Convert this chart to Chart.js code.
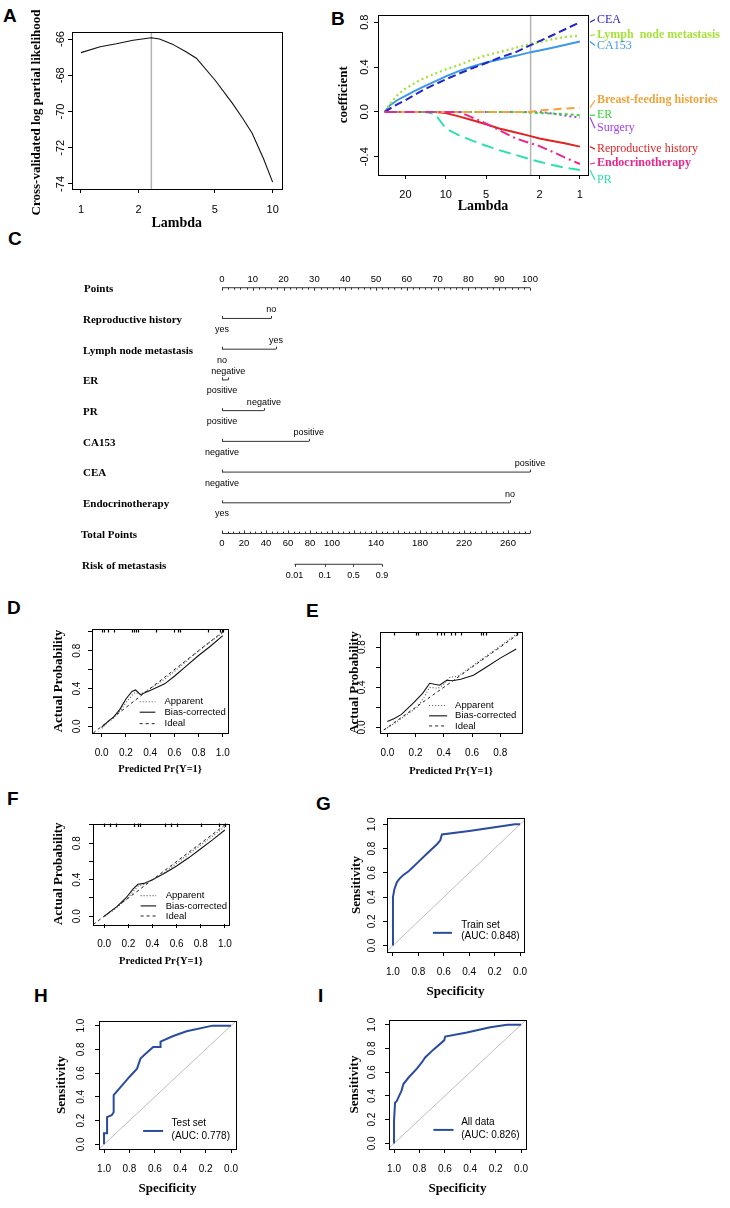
<!DOCTYPE html>
<html>
<head>
<meta charset="utf-8">
<script src="https://cdn.jsdelivr.net/npm/chart.js@4.4.1/dist/chart.umd.min.js"></script>
<style>
html, body { margin: 0; padding: 0; background: #fff; }
#fig { position: relative; width: 730px; height: 1208px; overflow: hidden; background: #fff; }
#fig canvas { position: absolute; }
.tag { position: absolute; font: bold 19px 'Liberation Sans', Arial, sans-serif; line-height: 1; color: #000; }
</style>
</head>
<body>
<div id="fig">
  <div class="tag" style="left:3px;top:6px">A</div>
  <div class="tag" style="left:331px;top:9px">B</div>
  <div class="tag" style="left:8px;top:229px">C</div>
  <div class="tag" style="left:7px;top:598px">D</div>
  <div class="tag" style="left:306px;top:601px">E</div>
  <div class="tag" style="left:7px;top:789px">F</div>
  <div class="tag" style="left:316px;top:794px">G</div>
  <div class="tag" style="left:34px;top:986px">H</div>
  <div class="tag" style="left:318px;top:986px">I</div>
  <canvas id="cA"></canvas>
  <canvas id="cB"></canvas>
  <canvas id="cC"></canvas>
  <canvas id="cD"></canvas>
  <canvas id="cE"></canvas>
  <canvas id="cF"></canvas>
  <canvas id="cG"></canvas>
  <canvas id="cH"></canvas>
  <canvas id="cI"></canvas>
</div>
<script>
(function () {
  'use strict';

  var SANS = "'Liberation Sans', Arial, sans-serif";
  var SERIF = "'Liberation Serif', 'Times New Roman', serif";
  Chart.defaults.font.family = SANS;
  Chart.defaults.color = '#000';

  /* ---------- A: cross-validated partial likelihood ---------- */
  var cvLambda = [1.0, 1.26, 1.53, 1.87, 2.0, 2.33, 2.57, 3.0, 3.53, 4.0, 5.0, 6.16, 7.0, 7.82, 9.0, 10.0];
  var cvLogLik = [-66.75, -66.42, -66.26, -66.07, -66.02, -65.93, -66.0, -66.28, -66.7, -67.06, -68.26, -69.54, -70.4, -71.2, -72.65, -73.9];
  var lambdaMin = 2.33;
  var cvTicksX = [1, 2, 5, 10];
  var cvTicksY = [-74, -72, -70, -68, -66];

  /* ---------- B: coefficient paths ---------- */
  var pathLambda = [28.5, 26, 23, 20, 17, 14.5, 12, 10, 8, 6.5, 5, 4, 3, 2.33, 2, 1.6, 1.3, 1.0];
  var pathCEA    = [0, 0.03, 0.068, 0.104, 0.154, 0.2, 0.246, 0.29, 0.34, 0.385, 0.436, 0.483, 0.533, 0.596, 0.631, 0.684, 0.735, 0.80];
  var pathLymph  = [0, 0.074, 0.148, 0.207, 0.258, 0.302, 0.34, 0.379, 0.418, 0.459, 0.504, 0.533, 0.572, 0.607, 0.622, 0.649, 0.667, 0.681];
  var pathCA153  = [0, 0.06, 0.104, 0.142, 0.187, 0.228, 0.273, 0.317, 0.364, 0.40, 0.44, 0.468, 0.50, 0.533, 0.548, 0.572, 0.596, 0.628];
  var pathBreast = [0, 0, 0, 0, 0, 0, 0, 0, 0, 0, 0, 0, 0, 0, 0.015, 0.02, 0.03, 0.038];
  var pathER     = [0, 0, 0, 0, 0, 0, 0, 0, 0, 0, 0, 0, 0, -0.006, -0.01, -0.015, -0.02, -0.03];
  var pathSurg   = [0, 0, 0, 0, 0, 0, 0, 0, 0, 0, 0, 0, 0, 0, 0, -0.015, -0.033, -0.05];
  var pathRepro  = [0, 0, 0, 0, 0, 0, 0, -0.01, -0.04, -0.07, -0.11, -0.148, -0.184, -0.216, -0.237, -0.26, -0.28, -0.31];
  var pathEndo   = [0, 0, 0, 0, 0, 0, 0, 0, 0, -0.044, -0.104, -0.163, -0.237, -0.28, -0.305, -0.356, -0.406, -0.465];
  var pathPR     = [0, 0, 0, 0, 0, 0, -0.02, -0.148, -0.207, -0.252, -0.302, -0.341, -0.385, -0.424, -0.444, -0.474, -0.498, -0.519];
  var pathNames  = ['CEA', 'Lymph  node metastasis', 'CA153', 'Breast-feeding histories', 'ER', 'Surgery', 'Reproductive history', 'Endocrinotherapy', 'PR'];
  var pathLabelY = [0.824, 0.69, 0.593, 0.104, -0.03, -0.146, -0.332, -0.456, -0.607];
  var pathTicksX = [20, 10, 5, 2, 1];
  var pathTicksY = [-0.4, 0, 0.4, 0.8];

  /* ---------- C: nomogram ---------- */
  var nomoVars   = ['Reproductive history', 'Lymph node metastasis', 'ER', 'PR', 'CA153', 'CEA', 'Endocrinotherapy'];
  var nomoLow    = ['yes', 'no', 'positive', 'positive', 'negative', 'negative', 'yes'];
  var nomoHigh   = ['no', 'yes', 'negative', 'negative', 'positive', 'positive', 'no'];
  var nomoPoints = [16, 17.5, 2, 13.6, 28.2, 100, 93.5];
  var pointTicks = [0, 10, 20, 30, 40, 50, 60, 70, 80, 90, 100];
  var totalTicks = [0, 20, 40, 60, 80, 100, 140, 180, 220, 260];
  var totalMax = 280;
  var riskLabels = ['0.01', '0.1', '0.5', '0.9'];
  var riskAtTotal = [66, 93.5, 119.5, 145.5];

  /* ---------- D, E, F: calibration ---------- */
  var calDx = [0.0, 0.05, 0.1, 0.15, 0.2, 0.25, 0.28, 0.32, 0.4, 0.52, 0.6, 0.7, 0.8, 0.9, 1.0];
  var calDapp = [-0.02, 0.04, 0.09, 0.16, 0.25, 0.33, 0.36, 0.34, 0.40, 0.50, 0.58, 0.69, 0.80, 0.90, 0.99];
  var calDbias = [-0.01, 0.05, 0.10, 0.18, 0.29, 0.37, 0.385, 0.335, 0.38, 0.45, 0.53, 0.64, 0.75, 0.85, 0.96];
  var rugD = [0.0, 0.02, 0.05, 0.1, 0.25, 0.27, 0.28, 0.3, 0.45, 0.6, 0.63, 0.65, 0.88, 0.98, 0.99, 1.0];

  var calEappX = [-0.02, 0.05, 0.1, 0.15, 0.21, 0.26, 0.30, 0.36, 0.40, 0.445, 0.5, 0.6, 0.7, 0.8, 0.93];
  var calEapp  = [-0.02, 0.04, 0.09, 0.14, 0.20, 0.30, 0.40, 0.39, 0.43, 0.50, 0.51, 0.61, 0.71, 0.81, 0.946];
  var calEbiasX = [0.0, 0.05, 0.1, 0.185, 0.25, 0.30, 0.37, 0.42, 0.46, 0.52, 0.61, 0.7, 0.8, 0.913];
  var calEbias  = [0.06, 0.09, 0.13, 0.245, 0.34, 0.44, 0.42, 0.47, 0.465, 0.48, 0.52, 0.6, 0.69, 0.78];
  var rugE = [0.05, 0.2, 0.22, 0.35, 0.38, 0.4, 0.45, 0.48, 0.52, 0.66, 0.68, 0.7, 0.92];

  var calFx = [0.0, 0.05, 0.1, 0.18, 0.24, 0.28, 0.33, 0.4, 0.5, 0.6, 0.7, 0.8, 0.9, 1.0];
  var calFapp = [0.0, 0.04, 0.09, 0.18, 0.27, 0.33, 0.35, 0.40, 0.48, 0.58, 0.68, 0.78, 0.88, 0.98];
  var calFbias = [0.0, 0.05, 0.10, 0.20, 0.30, 0.35, 0.36, 0.40, 0.47, 0.55, 0.64, 0.74, 0.84, 0.945];
  var rugF = [0.0, 0.05, 0.1, 0.25, 0.28, 0.3, 0.5, 0.55, 0.6, 0.8, 0.95, 1.0];

  var calTicks = [0, 0.2, 0.4, 0.6, 0.8, 1.0];
  var calTicksE = [0, 0.2, 0.4, 0.6, 0.8];

  /* ---------- G, H, I: ROC ---------- */
  var specG = [1.0, 1.0, 0.99, 0.97, 0.95, 0.92, 0.88, 0.85, 0.80, 0.75, 0.70, 0.65, 0.628, 0.615, 0.40, 0.20, 0.04, 0.0];
  var sensG = [0.0, 0.40, 0.46, 0.52, 0.55, 0.58, 0.61, 0.64, 0.69, 0.74, 0.79, 0.84, 0.868, 0.916, 0.945, 0.975, 1.0, 1.0];
  var specH = [1.0, 1.0, 0.976, 0.976, 0.94, 0.924, 0.924, 0.863, 0.797, 0.74, 0.713, 0.679, 0.613, 0.555, 0.555, 0.455, 0.35, 0.145, 0.0];
  var sensH = [0.0, 0.094, 0.094, 0.23, 0.245, 0.27, 0.415, 0.49, 0.572, 0.638, 0.722, 0.756, 0.82, 0.82, 0.866, 0.913, 0.953, 1.0, 1.0];
  var specI = [1.0, 1.0, 0.992, 0.979, 0.94, 0.926, 0.887, 0.82, 0.78, 0.755, 0.69, 0.605, 0.597, 0.426, 0.242, 0.11, 0.0];
  var sensI = [0.0, 0.19, 0.342, 0.355, 0.447, 0.5, 0.553, 0.63, 0.684, 0.724, 0.79, 0.868, 0.9, 0.934, 0.979, 1.0, 1.0];
  var rocTicks = [0, 0.2, 0.4, 0.6, 0.8, 1.0];
  var chanceX = [1.06, -0.06];
  var chanceY = [-0.06, 1.06];

  var ROC_BLUE = '#2A4C9E';

  /* ---------- helpers ---------- */
  function frame(id, box, yW, xH, padR, padT, padB) {
    var c = document.getElementById(id);
    var w = box[2] - box[0] + yW + padR, h = box[3] - box[1] + xH + padT + padB;
    c.width = w; c.height = h;
    c.style.left = (box[0] - yW) + 'px'; c.style.top = (box[1] - padT) + 'px';
    c.style.width = w + 'px'; c.style.height = h + 'px';
    return { el: c, pad: { left: 0, top: padT, right: padR, bottom: padB } };
  }
  function ticksFrom(vals) {
    return function (s) { s.ticks = vals.map(function (v) { return { value: v }; }); };
  }
  var GRID = { display: true, drawOnChartArea: false, drawTicks: true, tickLength: 4, color: '#000', lineWidth: 1 };
  function titleOpt(text, size) {
    if (!text) return { display: false };
    return { display: true, text: text, padding: 0, color: '#000', font: { family: SERIF, weight: 'bold', size: size, lineHeight: 1 } };
  }
  function xAxis(o) {
    return {
      type: o.type || 'linear', min: o.min, max: o.max, reverse: !!o.reverse,
      afterBuildTicks: ticksFrom(o.ticks),
      afterFit: function (s) { s.height = o.h; },
      grid: GRID, border: { display: false },
      ticks: { autoSkip: false, minRotation: 0, maxRotation: 0, padding: o.pad, color: '#000', font: { size: o.fs }, callback: o.fmt },
      title: titleOpt(o.title, o.ts)
    };
  }
  function yAxis(o) {
    return {
      type: 'linear', min: o.min, max: o.max,
      afterBuildTicks: ticksFrom(o.ticks),
      afterFit: function (s) { s.width = o.w; },
      grid: GRID, border: { display: false },
      ticks: { autoSkip: false, minRotation: 90, maxRotation: 90, crossAlign: 'center', padding: o.pad, color: '#000', font: { size: o.fs }, callback: o.fmt },
      title: titleOpt(o.title, o.ts)
    };
  }
  function series(xs, ys, style) {
    var d = { data: xs.map(function (x, i) { return { x: x, y: ys[i] }; }), showLine: true, pointRadius: 0, borderWidth: 1, borderColor: '#000', fill: false, tension: 0 };
    for (var k in style) d[k] = style[k];
    return d;
  }
  var boxPlugin = {
    id: 'box',
    afterDatasetsDraw: function (ch) {
      var a = ch.chartArea, c = ch.ctx;
      c.save(); c.strokeStyle = '#000'; c.lineWidth = 1; c.setLineDash([]);
      c.strokeRect(Math.round(a.left) + 0.5, Math.round(a.top) + 0.5, Math.round(a.right - a.left), Math.round(a.bottom - a.top));
      c.restore();
    }
  };
  function vlinePlugin(val) {
    return {
      id: 'vline',
      beforeDatasetsDraw: function (ch) {
        var a = ch.chartArea, c = ch.ctx, x = ch.scales.x.getPixelForValue(val);
        c.save(); c.strokeStyle = '#B4B4B4'; c.lineWidth = 1.5;
        c.beginPath(); c.moveTo(x, a.top); c.lineTo(x, a.bottom); c.stroke(); c.restore();
      }
    };
  }
  function legendPlugin(cfg) {
    return {
      id: 'lg',
      afterDatasetsDraw: function (ch) {
        var a = ch.chartArea, c = ch.ctx, W = a.right - a.left, H = a.bottom - a.top;
        c.save(); c.font = cfg.font; c.fillStyle = '#000'; c.textBaseline = 'middle'; c.textAlign = 'left';
        cfg.rows.forEach(function (r) {
          var y = a.top + H * r.y;
          if (r.line) {
            c.beginPath(); c.setLineDash(r.line.dash || []); c.strokeStyle = r.line.color; c.lineWidth = r.line.width;
            c.moveTo(a.left + W * cfg.x0, y); c.lineTo(a.left + W * cfg.x1, y); c.stroke();
          }
          if (r.text) c.fillText(r.text, a.left + W * cfg.tx, y);
        });
        c.restore();
      }
    };
  }
  function rugPlugin(vals) {
    return {
      id: 'rug',
      afterDatasetsDraw: function (ch) {
        var a = ch.chartArea, c = ch.ctx, xs = ch.scales.x;
        c.save(); c.strokeStyle = '#000'; c.lineWidth = 1.2;
        vals.forEach(function (v) {
          var x = Math.round(xs.getPixelForValue(v)) + 0.5;
          c.beginPath(); c.moveTo(x, a.top); c.lineTo(x, a.top + 3.5); c.stroke();
        });
        c.restore();
      }
    };
  }
  function base(fr, scales, datasets, plugins) {
    return new Chart(fr.el, {
      type: 'scatter',
      data: { datasets: datasets },
      options: {
        responsive: false, animation: false, events: [],
        layout: { padding: fr.pad },
        plugins: { legend: { display: false }, tooltip: { enabled: false } },
        scales: scales
      },
      plugins: plugins
    });
  }
  function fmt1(v) { return v.toFixed(1); }

  /* ---------- draw A ---------- */
  var frA = frame('cA', [72, 32, 283, 189], 42, 41, 6, 30, 2);
  base(frA, {
    x: xAxis({ type: 'logarithmic', min: 0.898, max: 11.13, ticks: cvTicksX, h: 41, pad: 10, fs: 11, title: 'Lambda', ts: 14, fmt: function (v) { return String(v); } }),
    y: yAxis({ min: -74.28, max: -65.61, ticks: cvTicksY, w: 42, pad: -1, fs: 11, fmt: function (v) { return String(v); } })
  }, [series(cvLambda, cvLogLik, { borderColor: '#111', borderWidth: 1.1 })], [boxPlugin, vlinePlugin(lambdaMin), {
    id: 'ytitleA',
    afterDraw: function (ch) {
      var a = ch.chartArea, c = ch.ctx;
      c.save(); c.translate(a.left - 35, (a.top + a.bottom) / 2 + 2); c.rotate(-Math.PI / 2);
      c.font = 'bold 13px ' + SERIF; c.fillStyle = '#000'; c.textAlign = 'center'; c.textBaseline = 'middle';
      c.fillText('Cross-validated log partial likelihood', 0, 0); c.restore();
    }
  }]);

  /* ---------- draw B ---------- */
  var pathSeries = [pathCEA, pathLymph, pathCA153, pathBreast, pathER, pathSurg, pathRepro, pathEndo, pathPR];
  var pathStyle = [
    { color: '#2424C8', dash: [8, 4], width: 2, bold: false },
    { color: '#A6E23A', dash: [2, 3], width: 2.4, bold: true },
    { color: '#3A9AE8', dash: [], width: 2, bold: false },
    { color: '#F2A33A', dash: [8, 5], width: 2, bold: true },
    { color: '#3AD23A', dash: [3, 3], width: 2, bold: false },
    { color: '#A040E8', dash: [2, 3], width: 2, bold: false },
    { color: '#E02424', dash: [], width: 2, bold: false },
    { color: '#E8288C', dash: [10, 4, 2, 4], width: 2, bold: true },
    { color: '#2EE0B0', dash: [12, 6], width: 2, bold: false }
  ];
  var frB = frame('cB', [378, 14, 588, 175], 41, 38, 142, 6, 2);
  base(frB, {
    x: xAxis({ type: 'logarithmic', min: 0.87, max: 32, reverse: true, ticks: pathTicksX, h: 38, pad: 9, fs: 11, title: 'Lambda', ts: 14, fmt: function (v) { return String(v); } }),
    y: yAxis({ min: -0.563, max: 0.868, ticks: pathTicksY, w: 41, pad: 0, fs: 11, title: 'coefficient', ts: 13, fmt: fmt1 })
  }, pathSeries.map(function (s, i) {
    var st = pathStyle[i];
    return series(pathLambda, s, { borderColor: st.color, borderDash: st.dash, borderWidth: st.width, order: i === 7 ? -1 : i });
  }), [boxPlugin, vlinePlugin(lambdaMin), {
    id: 'pathLabels',
    afterDraw: function (ch) {
      var a = ch.chartArea, c = ch.ctx, ys = ch.scales.y;
      c.save(); c.textBaseline = 'middle'; c.textAlign = 'left';
      pathNames.forEach(function (n, i) {
        var st = pathStyle[i], s = pathSeries[i];
        var y0 = ys.getPixelForValue(s[s.length - 1]), y1 = ys.getPixelForValue(pathLabelY[i]);
        c.strokeStyle = st.color; c.lineWidth = 1.2; c.setLineDash([]);
        c.beginPath(); c.moveTo(a.right + 2, y0); c.lineTo(a.right + 7, y1); c.stroke();
        c.font = (st.bold ? 'bold ' : '') + '12px ' + SERIF; c.fillStyle = st.color;
        c.fillText(n, a.right + 9, y1);
      });
      c.restore();
    }
  }]);

  /* ---------- draw C (nomogram) ---------- */
  var cC = document.getElementById('cC');
  cC.width = 730; cC.height = 370; cC.style.left = '0px'; cC.style.top = '230px';
  cC.style.width = '730px'; cC.style.height = '370px';
  var NOMO_INK = '#333';
  var nomoSets = [series([0, 100], [0, 0], { borderColor: NOMO_INK })];
  nomoVars.forEach(function (v, i) { nomoSets.push(series([0, nomoPoints[i]], [i + 1, i + 1], { borderColor: NOMO_INK })); });
  nomoSets.push(series([0, totalMax], [8, 8], { borderColor: NOMO_INK, xAxisID: 'tot' }));
  nomoSets.push(series([riskAtTotal[0], riskAtTotal[riskAtTotal.length - 1]], [9, 9], { borderColor: NOMO_INK, xAxisID: 'tot' }));
  new Chart(cC, {
    type: 'scatter',
    data: { datasets: nomoSets },
    options: {
      responsive: false, animation: false, events: [],
      layout: { padding: { left: 222, right: 200, top: 27, bottom: 5 } },
      plugins: { legend: { display: false }, tooltip: { enabled: false } },
      scales: {
        x: { type: 'linear', min: 0, max: 100, display: false },
        tot: { type: 'linear', axis: 'x', position: 'bottom', min: 0, max: totalMax, display: false },
        y: { type: 'linear', min: -1, max: 10, reverse: true, display: false }
      }
    },
    plugins: [{
      id: 'nomo',
      afterDatasetsDraw: function (ch) {
        var c = ch.ctx, xs = ch.scales.x, ts = ch.scales.tot, ys = ch.scales.y;
        var rowY = function (r) { return ys.getPixelForValue(r); };
        c.save();
        c.strokeStyle = NOMO_INK; c.lineWidth = 1; c.fillStyle = '#000';
        function tick(x, y, len) { c.beginPath(); c.moveTo(Math.round(x) + 0.5, y); c.lineTo(Math.round(x) + 0.5, y + len); c.stroke(); }
        // Points axis
        var y0 = rowY(0), v;
        for (v = 0; v <= 100; v += 2) tick(xs.getPixelForValue(v), y0, v % 10 === 0 ? 3 : 2);
        c.font = '9.5px ' + SANS; c.textAlign = 'center'; c.textBaseline = 'middle';
        pointTicks.forEach(function (p) { c.fillText(String(p), xs.getPixelForValue(p), y0 - 8); });
        // variable rows
        c.font = '9px ' + SANS;
        nomoVars.forEach(function (n, i) {
          var y = rowY(i + 1), xl = xs.getPixelForValue(0), xr = xs.getPixelForValue(nomoPoints[i]);
          tick(xl, y, -2.5); tick(xr, y, -2.5);
          c.fillText(nomoHigh[i], xr, y - 8.5);
          c.fillText(nomoLow[i], xl, y + 11);
        });
        // Total points axis
        var y8 = rowY(8);
        for (v = 0; v <= totalMax; v += 5) tick(ts.getPixelForValue(v), y8, v % 20 === 0 ? -3 : -2);
        c.font = '9.5px ' + SANS;
        totalTicks.forEach(function (p) { c.fillText(String(p), ts.getPixelForValue(p), y8 + 10); });
        // Risk axis
        var y9 = rowY(9);
        c.font = '9px ' + SANS;
        riskAtTotal.forEach(function (p, i) {
          var x = ts.getPixelForValue(p);
          tick(x, y9, 2.5);
          c.fillText(riskLabels[i], x, y9 + 11);
        });
        // row names
        c.font = 'bold 11px ' + SERIF; c.textAlign = 'left';
        c.fillText('Points', 84, y0 + 1.5);
        nomoVars.forEach(function (n, i) { c.fillText(n, 83, rowY(i + 1) + 1.5); });
        c.fillText('Total Points', 81, y8 + 1.5);
        c.fillText('Risk of metastasis', 82, y9 + 1.5);
        c.restore();
      }
    }]
  });

  /* ---------- calibration panels ---------- */
  var APP = { borderColor: '#555', borderDash: [1, 2], borderWidth: 1.1 };
  var BIAS = { borderColor: '#111', borderWidth: 1.1 };
  var IDEAL = { borderColor: '#222', borderDash: [3, 3], borderWidth: 1 };
  function calLegend(x0, x1, tx, ys) {
    return legendPlugin({
      font: '9.5px ' + SANS, x0: x0, x1: x1, tx: tx,
      rows: [
        { text: 'Apparent', y: ys[0], line: { color: '#555', dash: [1, 2], width: 1.1 } },
        { text: 'Bias-corrected', y: ys[1], line: { color: '#111', dash: [], width: 1.1 } },
        { text: 'Ideal', y: ys[2], line: { color: '#222', dash: [3, 3], width: 1 } }
      ]
    });
  }
  function calLabel(v) { return (Math.abs(v - 0.2) < 1e-6 || Math.abs(v - 0.6) < 1e-6 || Math.abs(v - 1) < 1e-6) ? '' : v.toFixed(1); }

  var frD = frame('cD', [92, 623, 234, 733], 40, 42, 6, 4, 2);
  base(frD, {
    x: xAxis({ min: -0.08, max: 1.045, ticks: calTicks, h: 42, pad: 10, fs: 10, title: 'Predicted Pr{Y=1}', ts: 10.5, fmt: fmt1 }),
    y: yAxis({ min: -0.07, max: 1.03, ticks: calTicks, w: 40, pad: 4, fs: 10, title: 'Actual Probability', ts: 13, fmt: calLabel })
  }, [
    series([-0.07, 1.03], [-0.07, 1.03], IDEAL),
    series(calDx, calDapp, APP),
    series(calDx, calDbias, BIAS)
  ], [boxPlugin, rugPlugin(rugD), calLegend(0.35, 0.465, 0.532, [0.70, 0.80, 0.91])]);

  var frE = frame('cE', [380, 623, 522, 733], 32, 44, 6, 4, 2);
  base(frE, {
    x: xAxis({ min: -0.052, max: 0.954, ticks: calTicksE, h: 44, pad: 10.5, fs: 10, title: 'Predicted Pr{Y=1}', ts: 10.5, fmt: fmt1 }),
    y: yAxis({ min: -0.055, max: 0.95, ticks: calTicksE, w: 32, pad: 7, fs: 10, title: 'Actual Probability', ts: 13, fmt: calLabel })
  }, [
    series([-0.06, 0.96], [-0.06, 0.96], IDEAL),
    series(calEappX, calEapp, APP),
    series(calEbiasX, calEbias, BIAS)
  ], [boxPlugin, rugPlugin(rugE), calLegend(0.346, 0.473, 0.529, [0.727, 0.83, 0.93])]);

  var frF = frame('cF', [93, 817, 236, 924], 41, 43, 6, 4, 2);
  base(frF, {
    x: xAxis({ min: -0.093, max: 1.034, ticks: calTicks, h: 43, pad: 10, fs: 10, title: 'Predicted Pr{Y=1}', ts: 10.5, fmt: fmt1 }),
    y: yAxis({ min: -0.085, max: 1.016, ticks: calTicks, w: 41, pad: 4.5, fs: 10, title: 'Actual Probability', ts: 13, fmt: calLabel })
  }, [
    series([-0.09, 1.03], [-0.09, 1.03], IDEAL),
    series(calFx, calFapp, APP),
    series(calFx, calFbias, BIAS)
  ], [boxPlugin, rugPlugin(rugF), calLegend(0.35, 0.465, 0.535, [0.718, 0.82, 0.92])]);

  /* ---------- ROC panels ---------- */
  function rocChart(id, box, yW, xr, yr, pad, spec, sens, name, auc, lg) {
    var fr = frame(id, box, yW, 46, 6, 4, 2);
    base(fr, {
      x: xAxis({ min: xr[0], max: xr[1], reverse: true, ticks: rocTicks, h: 46, pad: 10, fs: 10, title: 'Specificity', ts: 13, fmt: fmt1 }),
      y: yAxis({ min: yr[0], max: yr[1], ticks: rocTicks, w: yW, pad: pad, fs: 10, title: 'Sensitivity', ts: 13, fmt: fmt1 })
    }, [
      series(spec, sens, { borderColor: ROC_BLUE, borderWidth: 2 }),
      series(chanceX, chanceY, { borderColor: '#BDBDBD', borderWidth: 1, clip: 0 })
    ], [boxPlugin, legendPlugin({
      font: '10px ' + SANS, x0: lg[0], x1: lg[1], tx: lg[2],
      rows: [
        { text: '', y: lg[3], line: { color: ROC_BLUE, dash: [], width: 2 } },
        { text: name, y: lg[4] },
        { text: '(AUC: ' + auc + ')', y: lg[5] }
      ]
    })]);
  }
  rocChart('cG', [387, 812, 524, 952], 37, [-0.031, 1.047], [-0.053, 1.052], 4, specG, sensG, 'Train set', '0.848', [0.335, 0.474, 0.542, 0.857, 0.797, 0.886]);
  rocChart('cH', [99, 1012, 236, 1149], 44, [-0.039, 1.0395], [-0.039, 1.039], 7, specH, sensH, 'Test set', '0.778', [0.322, 0.468, 0.53, 0.859, 0.798, 0.903]);
  rocChart('cI', [389, 1012, 526, 1149], 41, [-0.039, 1.0395], [-0.047, 1.0395], 6, specI, sensI, 'All data', '0.826', [0.324, 0.471, 0.527, 0.852, 0.792, 0.896]);
})();
</script>
</body>
</html>
